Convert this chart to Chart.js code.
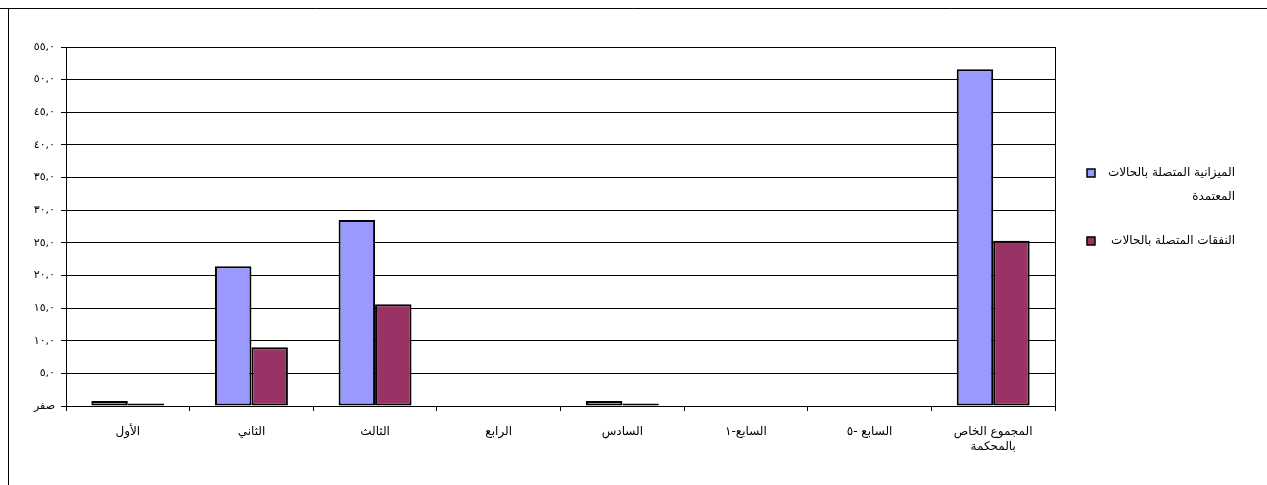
<!DOCTYPE html>
<html>
<head>
<meta charset="utf-8">
<script src="https://cdn.jsdelivr.net/npm/chart.js@4"></script>
<style>
html,body{margin:0;padding:0;background:#fff;}
#wrap{position:relative;width:1267px;height:485px;}
</style>
</head>
<body>
<div id="wrap"><canvas id="c" width="1267" height="485"></canvas></div>
<script>
const categories = ['الأول','الثاني','الثالث','الرابع','السادس','السابع-١','السابع -٥',['المجموع الخاص','بالمحكمة']];
const budgetValues = [0.75, 21.4, 28.5, 0, 0.75, 0, 0, 51.6];
const expenseValues = [0.4, 9.0, 15.6, 0, 0.4, 0, 0, 25.3];
const seriesNames = [['الميزانية المتصلة بالحالات','المعتمدة'], ['النفقات المتصلة بالحالات']];
const seriesColors = ['#9999FF', '#993366'];

const FONT = 'DejaVu Sans';
function toArabicDigits(s){ return String(s).replace(/[0-9]/g, d => '٠١٢٣٤٥٦٧٨٩'[d]); }
function yLabel(v){ return v === 0 ? 'صفر' : toArabicDigits(v.toFixed(1)).replace('.', ','); }

const framePlugin = {
  id: 'frame',
  afterDraw(chart){
    const ctx = chart.ctx;
    ctx.save();
    ctx.strokeStyle = '#000';
    ctx.lineWidth = 1;
    ctx.beginPath();
    ctx.moveTo(0, 8.5); ctx.lineTo(1267, 8.5);
    ctx.moveTo(8.5, 8.5); ctx.lineTo(8.5, 485);
    ctx.stroke();
    const a = chart.chartArea;
    ctx.beginPath();
    ctx.moveTo(Math.round(a.right)+0.5, a.top); ctx.lineTo(Math.round(a.right)+0.5, a.bottom+5);
    ctx.stroke();
    // custom legend
    ctx.font = '12px "' + FONT + '"';
    ctx.textBaseline = 'middle';
    ctx.textAlign = 'right';
    const items = [{y:173, lines: seriesNames[0]}, {y:241, lines: seriesNames[1]}];
    items.forEach((it, i) => {
      ctx.fillStyle = seriesColors[i];
      ctx.fillRect(1087, it.y - 4, 8, 8);
      ctx.lineWidth = 1.5;
      ctx.strokeStyle = '#000';
      ctx.strokeRect(1087, it.y - 4, 8, 8);
      ctx.fillStyle = '#000';
      it.lines.forEach((ln, k) => ctx.fillText(ln, 1235, it.y + k * 24));
    });
    ctx.restore();
  }
};

new Chart(document.getElementById('c'), {
  type: 'bar',
  data: {
    labels: categories,
    datasets: [
      { label: seriesNames[0].join(' '), data: budgetValues, backgroundColor: seriesColors[0], borderColor: '#000', borderWidth: 2, borderSkipped: false, categoryPercentage: 0.59, barPercentage: 1.0 },
      { label: seriesNames[1].join(' '), data: expenseValues, backgroundColor: seriesColors[1], borderColor: '#000', borderWidth: 2, borderSkipped: false, categoryPercentage: 0.59, barPercentage: 1.0 }
    ]
  },
  options: {
    responsive: false,
    animation: false,
    layout: { padding: { left: 0, right: 212, top: 47, bottom: 0 } },
    plugins: { legend: { display: false }, tooltip: { enabled: false }, title: { display: false } },
    scales: {
      x: {
        grid: { display: true, drawOnChartArea: false, drawTicks: true, tickLength: 5, color: '#000', offset: true },
        border: { display: true, color: '#000', width: 1 },
        ticks: { color: '#000', font: { family: FONT, size: 12 }, padding: 14, maxRotation: 0, autoSkip: false },
        afterFit(scale){ scale.height = 79; }
      },
      y: {
        min: 0, max: 55,
        grid: { color: '#000', lineWidth: 1, tickLength: 5, drawTicks: true },
        border: { display: true, color: '#000', width: 1 },
        ticks: { stepSize: 5, color: '#000', font: { family: FONT, size: 11 }, padding: 6, callback: v => yLabel(v) },
        afterFit(scale){ scale.width = 66; }
      }
    }
  },
  plugins: [framePlugin]
});
</script>
</body>
</html>
